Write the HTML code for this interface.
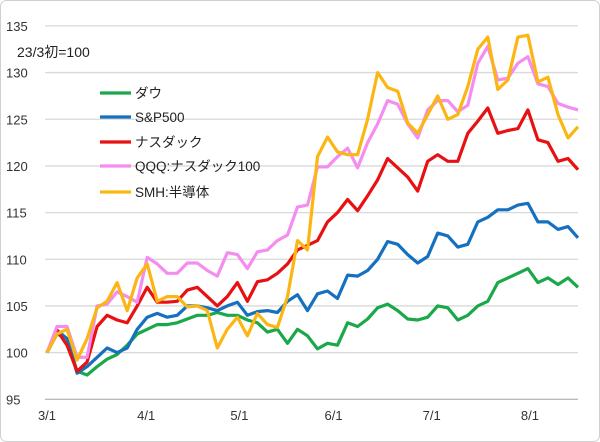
<!DOCTYPE html>
<html><head><meta charset="utf-8"><style>
body{margin:0;background:#fff;}
svg{display:block;font-family:"Liberation Sans","Noto Sans CJK JP",sans-serif;}
</style></head><body>
<svg id="chart" width="600" height="442">
<rect x="0.5" y="0.5" width="599" height="441" rx="6" fill="#fff" stroke="#d0d0d0"/>
<g id="grid"></g><g id="series"></g>
<text x="17" y="57" font-size="14" fill="#222">23/3初=100</text>
<g id="legend"></g>
</svg>
<script>
const yTicks=[95,100,105,110,115,120,125,130,135];
const xLabels=["3/1","4/1","5/1","6/1","7/1","8/1"];
const xLabelIdx=[0,9.9,19.2,28.6,38.4,48.2];
const names=["ダウ","S&P500","ナスダック","QQQ:ナスダック100","SMH:半導体"];
const colors=["#1aa84a","#1570c0","#e81010","#f58cf0","#fbb614"];
const dow=[100,102,101.5,98,97.6,98.5,99.3,99.8,100.8,102,102.5,103,103,103.2,103.6,104,104,104.3,104,104,103.5,103.2,102.2,102.5,101,102.5,101.8,100.4,101,100.8,103.2,102.8,103.6,104.8,105.2,104.5,103.6,103.5,103.8,105,104.8,103.5,104,105,105.5,107.5,108,108.5,109,107.5,108,107.3,108,107];
const sp=[100,102.4,101.5,97.8,98.5,99.5,100.5,100,100.5,102.5,103.8,104.2,103.8,104,105,105,104.8,104.5,105,105.4,104,104.4,104.5,104.3,105.5,106.2,104.5,106.3,106.6,105.8,108.3,108.2,108.8,110,111.9,111.6,110.5,109.6,110.3,112.8,112.5,111.3,111.6,114,114.5,115.3,115.3,115.8,116,114,114,113.2,113.5,112.3];
const nasdaq=[100,102.4,100.8,98,99,102.8,104,103.5,103.2,105,107,105.4,105.4,105.5,106.7,107,106,105,106,107.5,105.5,107.6,107.8,108.5,109.5,111,111.5,112,114,115,116.4,115.2,116.8,118.5,120.8,119.8,118.8,117.3,120.5,121.2,120.5,120.5,123.5,124.8,126.2,123.5,123.8,124,126,122.8,122.5,120.5,120.8,119.6];
const qqq=[100,102.8,102.8,99.5,99.5,105,105.2,106.5,106,105.4,110.2,109.5,108.5,108.5,109.6,109.6,108.8,108.2,110.7,110.5,109,110.8,111,112,112.6,115.6,115.8,119.9,119.9,121,121.9,119.8,122.5,124.5,127,126.6,124.5,123,126,127,127,125.8,126.5,131,132.8,129.2,129.4,131,131.7,128.8,128.5,126.7,126.3,126];
const smh=[100,102,102.5,99.2,101.5,104.8,105.5,107.5,104.5,108,109.5,105.5,106,106,104.9,105,104.5,100.5,102.5,103.8,101.8,104.2,103,102.7,106,112,111,121,123.1,121.5,121.2,121.2,125,130,128.4,128,124.6,123.5,125.5,127.5,125,125.5,128.5,132.5,133.8,128.2,129.2,133.8,134,129,129.5,125.5,123,124.2];
const allSeries=[dow,sp,nasdaq,qqq,smh];
const ns="http://www.w3.org/2000/svg";
const X0=47,X1=578,Y0=399.3,Y1=25.9;
const nPts=dow.length;
function xs(i){return X0+(X1-X0)*i/(nPts-1);}
function ys(v){return Y0-(v-95)/(135-95)*(Y0-Y1);}
const grid=document.getElementById('grid');
yTicks.forEach(t=>{
 const l=document.createElementNS(ns,'line');
 l.setAttribute('x1',45);l.setAttribute('x2',X1);l.setAttribute('y1',ys(t));l.setAttribute('y2',ys(t));
 l.setAttribute('stroke',t===95?'#bbb':'#d9d9d9');l.setAttribute('stroke-width',1.3);
 
 
 grid.appendChild(l);
 const tx=document.createElementNS(ns,'text');
 tx.setAttribute('x',6);tx.setAttribute('y',ys(t)+5);tx.setAttribute('font-size',13);tx.setAttribute('fill','#333');
 tx.textContent=t;
 
 
 grid.appendChild(tx);
});
xLabels.forEach((lb,k)=>{
 const tx=document.createElementNS(ns,'text');
 tx.setAttribute('x',xs(xLabelIdx[k]));tx.setAttribute('y',420);tx.setAttribute('font-size',13);tx.setAttribute('fill','#333');tx.setAttribute('text-anchor','middle');
 tx.textContent=lb;
 
 
 grid.appendChild(tx);
});
const sg=document.getElementById('series');
allSeries.forEach((s,k)=>{
 const p=document.createElementNS(ns,'polyline');
 p.setAttribute('points',s.map((v,i)=>xs(i).toFixed(1)+','+ys(v).toFixed(1)).join(' '));
 p.setAttribute('fill','none');p.setAttribute('stroke',colors[k]);p.setAttribute('stroke-width',3.2);p.setAttribute('stroke-linejoin','round');
 
 
 sg.appendChild(p);
});
const lg=document.getElementById('legend');
const legY=[93,117,142,166,192];
names.forEach((n,k)=>{
 const l=document.createElementNS(ns,'line');
 l.setAttribute('x1',100);l.setAttribute('x2',131);l.setAttribute('y1',legY[k]);l.setAttribute('y2',legY[k]);
 l.setAttribute('stroke',colors[k]);l.setAttribute('stroke-width',3.2);
 
 
 lg.appendChild(l);
 const tx=document.createElementNS(ns,'text');
 tx.setAttribute('x',135);tx.setAttribute('y',legY[k]+5);tx.setAttribute('font-size',13.5);tx.setAttribute('fill','#222');
 tx.textContent=n;
 
 
 lg.appendChild(tx);
});
</script>
</body></html>
